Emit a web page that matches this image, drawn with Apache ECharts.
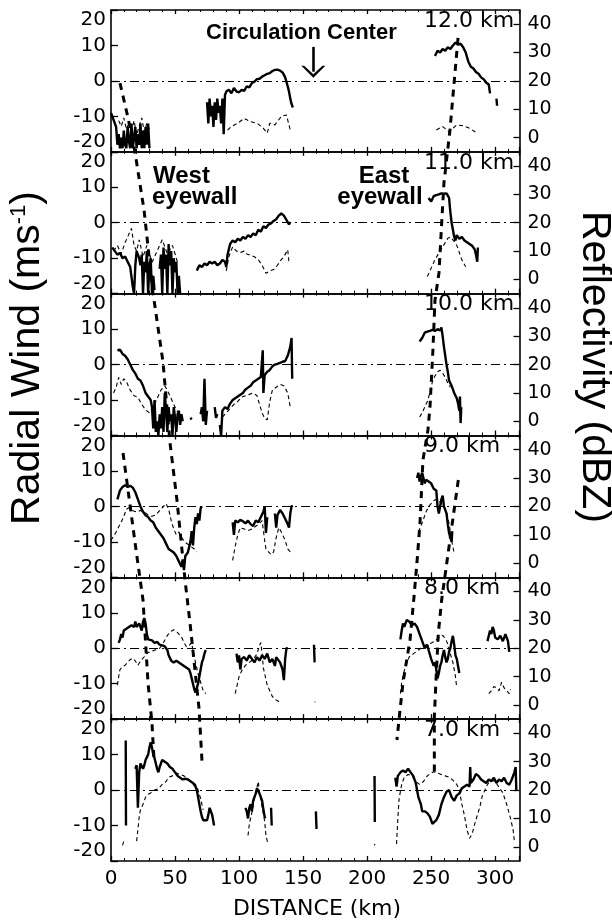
<!DOCTYPE html>
<html><head><meta charset="utf-8">
<script src="https://cdn.jsdelivr.net/npm/echarts@6/dist/echarts.min.js"></script>
<style>html,body{margin:0;padding:0;background:#fff}#c{width:612px;height:923px}</style>
</head><body><div id="c"></div>
<script>
// ---------------- DATA ----------------
const panelLabels = ['12.0 km','11.0 km','10.0 km','9.0 km','8.0 km','7.0 km'];
const xTicks = [0,50,100,150,200,250,300];
const windTicks = [-20,-10,0,10,20];
const reflTicks = [0,10,20,30,40];

// radial wind (m/s) [distance km, value]; null = gap
const wind12 = [[0,-9],[1,-9.5],[2,-11],[3,-12],[4,-13],[5,-18],[6,-15],[7,-19],[8,-16],[9,-19],[10,-14],[11,-18],[12,-19],[13,-13],[14,-17],[15,-19],[16,-12],[17,-19],[18,-16],[19,-13],[20,-19],[21,-15],[22,-18],[23,-12],[24,-19],[25,-14],[26,-19],[27,-13],[28,-18],[29,-12],[30,-19],null,
 [75,-6],[76,-12],[77,-5],[78,-10],[79,-7],[80,-13],[81,-6],[82,-11],[83,-5],[84,-9],[85,-7],[86,-12],[87,-5],[88,-15],[89,-4],[90,-3],[92,-2.5],[94,-3.5],[96,-2],[98,-3],[100,-3.2],[102,-2.5],[104,-2.8],[106,-1.5],[108,-1.8],[110,-0.6],[112,-0.2],[114,0.5],[116,0.6],[118,1.2],[120,1.6],[122,2],[124,2.2],[126,2.8],[128,3.1],[130,3.2],[132,2.9],[134,2.4],[136,1],[138,-1.5],[139,-3],[140,-5],[141,-6.5],[142,-7.5],null,
 [253,7],[255,8.5],[257,8],[259,9],[261,8.5],[263,9.5],[265,9],[267,10],[269,10.8],[271,10.2],[273,10.5],[275,9.5],[277,8],[279,5.5],[281,4],[283,3.5],[285,2.5],[287,2],[289,1],[291,0.5],[293,-0.5],[295,-1],[296,-3.5],null,[301,-5],[301.5,-7],null];
const wind11 = [[1,-7],[3,-8],[5,-9],[7,-8.5],[9,-10],[11,-9.5],[13,-11],[15,-12.5],[17,-18],[18,-20],[19,-12],[20,-8],[21,-7.5],[22,-10],[23,-12],[24,-9],[25,-20],[26,-11],[27,-14],[28,-8],[29,-20],[30,-12],[31,-10],[32,-20],[33,-15],[34,-19],null,
 [38,-13],[39,-9],[40,-20],[41,-7],[42,-13],[43,-9],[44,-20],[45,-6],[46,-12],[47,-8],[48,-20],[49,-10],[50,-14],[51,-11],[52,-20],[53,-15],[54,-20],null,
 [67,-13.5],[69,-12],[71,-12.5],[73,-11.5],[75,-12],[77,-11],[79,-11.5],[81,-11],[83,-12],[85,-11.5],[87,-10.5],[89,-11],[90,-12.5],[91,-9],[93,-6],[95,-5],[97,-5.5],[99,-4.5],[101,-5],[103,-4],[105,-4.5],[107,-3.5],[109,-4],[111,-3],[113,-3.5],[115,-2],[117,-2.5],[119,-1],[121,-1.5],[123,-0.5],[125,-0.2],[127,0.5],[129,1],[131,2],[133,2.6],[135,2],[137,0.8],[139,-0.5],[140,0.2],null,
 [248,7],[250,6],[252,7.5],[254,7.8],[256,8],[258,8.3],[260,8.2],[262,8.3],[264,7],[265,3],[266,0],[267,-2],[268,-4],[269,-5],[270,-3.5],[272,-4.5],[274,-4],[276,-5],[278,-5.5],[280,-6],[282,-6.5],[284,-7.5],[285,-9],[286,-11],[286.5,-7],null];
const wind10 = [[5,4],[7,4.2],[9,3],[11,2.5],[13,1.5],[15,0],[17,-1.5],[19,-2.5],[21,-4],[23,-4.5],[25,-6],[27,-8],[29,-9],[31,-10],[32,-12],[33,-18],[34,-10],[35,-19],[36,-16],[37,-20],[38,-14],[39,-18],[40,-12],[41,-19],[42,-8],[43,-13],[44,-19],[45,-12],[46,-16],[47,-14],[48,-20],[49,-12],[50,-15],[51,-19],[52,-14],[53,-13],[54,-17],[55,-14],[56,-16],null,
 [62,-15],[63,-15.5],null,[70,-14],[71,-12],[72,-16],[73,-4],[74,-17],[75,-13],null,[81,-12],[82,-15],[83,-14],null,
 [85,-17],[86,-20],[87,-13],[89,-12],[91,-12.5],[93,-11],[95,-10],[97,-9.5],[99,-9],[101,-8.5],[103,-8],[105,-7],[107,-6.5],[109,-6],[111,-5],[113,-4.5],[115,-4],[117,-3.5],[118,-3],[118.5,4],[119,-8],[120,-3],[122,-2],[124,-1.5],[126,-0.5],[128,0],[130,0.2],[132,0.5],[134,0.8],[136,1],[138,2.5],[140,5],[141,7.5],[141.5,-4],null,
 [241,6.5],[243,7.5],[245,9],[247,9.3],[249,9.5],[251,9.8],[253,9.5],[255,10],[257,9.6],[258,10.5],[259,8],[260,5],[261,2.5],[262,0],[263,-2],[264,-4.5],[266,-6],[268,-8],[270,-9.5],[271,-11],[272,-13],[272.5,-9],[273,-16.5],[273.5,-12],null];
const wind9 = [[5,2],[7,4.5],[9,5.5],[11,6],[13,5.5],[15,5.8],[17,5.3],[19,4],[21,2],[23,0],[25,-1.5],[27,-2.5],[29,-3],[31,-4],[33,-4.5],[35,-6],[37,-7],[39,-8],[41,-9],[43,-10.5],[45,-12],[47,-12.5],[49,-13],[51,-14],[53,-15.5],[55,-17],[56,-15],[57,-18],[58,-14],[60,-13],[62,-10],[63,-7],[64,-11],[65,-6],[66,-3],[67,-5],[68,-2],[69,-4],[70,-0.5],[71,0],null,
 [95,-4.5],[96,-8],[97,-4],[99,-4.5],[101,-3.8],[103,-4.2],[105,-4.8],[107,-4],[109,-5],[111,-5.5],[113,-4],[115,-4.5],[117,-3],[119,-1.5],[120,0],[121,-7.5],[122,-3],null,
 [128,-2],[129,-6],[130,-2.5],[132,-1],[134,-2],[136,-3.5],[138,-5],[139,-6],[140,-2],[141,0],[142,0.2],null,
 [239,8],[240,9.5],[241,7],[242,8.5],[243,9.5],[244,8],[245,6.5],[246,7.5],[248,7],[250,6.5],[252,5],[254,4.5],[255,0],[256,-2],[257,-2.5],[258,2],[259,3],[260,0],[261,-1],[262,-2],[263,-5],[264,-7.5],[265,-8],[266,-10],[266.5,-7],null];
const wind8 = [[6,1.5],[7,2.5],[8,4],[9,3],[10,5],[11,4.5],[12,5.5],[13,5],[14,6],[15,5.5],[16,6.5],[17,7],[18,6],[19,7.5],[20,6],[21,5.5],[22,7],[23,6.5],[24,5],[25,7.5],[26,8.5],[27,7],[28,4],[29,2.5],[30,2],[32,2.2],[34,1.5],[36,1.8],[38,1],[40,0.8],[42,0.5],[44,-0.5],[45,-2],[47,-3.5],[49,-4],[51,-3.5],[53,-4],[55,-4.5],[57,-5],[59,-5.5],[61,-6],[62,-7],[63,-8.5],[64,-10],[65,-11.5],[66,-12.5],[67,-12],[68,-10],[69,-8],[70,-6],[71,-4],[72,-3],[73,-1.5],[74,-0.5],null,
 [98,-1.5],[99,-4],[100,-2],[101,-6],[102,-3],[104,-2.5],[106,-3.5],[108,-2],[110,-3],[112,-4],[114,-2.5],[116,-3.5],[118,-2],[120,-3],[122,-1.5],[124,-4],[126,-3],[128,-5],[129,-2.5],[130,-2],[132,-4],[134,-6],[135,-9],[136,-3],[137,0],[138,0],null,[158.5,1],[159,-4],null,
 [226,2.5],[227,5],[228,7],[229,6],[231,8],[233,7.5],[235,6.5],[237,7],[239,6],[241,4],[243,2],[245,0],[247,1],[248,-0.5],[250,-3],[252,-5],[253,-4],[254,-6],[255,-8.5],[256,-7],[257,-5],[258,-4],[259,-2],[260,-0.5],[261,-2.5],[262,-4],[263,-3],[264,-1],[265,0],[266,2],[267,3.5],[268,1],[269,-2],[270,-3],[271,-5],[272,-7],null,
 [294,2],[295,3.5],[296,5],[297,4],[298,6],[299,5],[300,3],[302,2.5],[304,3.5],[306,2],[308,4],[309,4.5],[310,2],[311,-1],null];
const wind7 = [[11.5,14],[11.7,-10],null,
 [19,6],[20,7],[21,-5],[22,5],[23,7.5],[24,8],[25,6],[26,7],[27,8.5],[28,9],[29,10],[30,12],[31,13.5],[32,12],[33,10],[34,9],[35,7.5],[36,6],[37,5],[38,6.5],[40,8.5],[42,8],[44,7.5],[46,6.5],[48,6],[50,5],[52,4],[54,3.5],[56,3],[58,3.2],[60,3],[62,2.5],[64,2],[66,1],[67,0],[68,-2],[69,-4],[70,-6],[71,-7.5],[72,-8.5],[73,-8.8],[75,-8.5],[76,-7],[77,-5],[78,-5.5],[79,-7],[80,-9],[80.5,-10],null,
 [105,-5],[106,-6],[107,-8],[108,-5],[109,-4],[110,-6],[111,-3],[112,-2],[113,-1],[114,0.5],[115,0],[116,-1],[117,-2],[118,-3],[119,-5.5],[120,-7.5],[120.5,-8],null,[125,-5],[125.5,-10],null,[160,-6],[160.5,-11],null,[205.8,4],[206,-9],null,
 [222,3.5],[223,1],[224,4],[226,5],[228,5.5],[230,5],[232,6],[234,5],[236,4],[238,2],[239,0],[240,-2],[241,-3],[242,-4],[243,-6],[245,-6],[247,-6.5],[249,-7.5],[251,-9.5],[252,-10],[254,-8.5],[256,-7],[258,-4],[260,-2],[262,-0.5],[264,0],[266,-2],[268,-3],[270,-1.5],[272,-1],[274,0.5],[276,1],[278,1.5],[280,1],[280.5,6.5],[281,2],[283,3],[285,4.5],[287,4],[289,3],[291,2.5],[293,2],[295,3],[297,2.5],[299,3.5],[301,2],[303,3],[305,2.5],[307,3.5],[309,2],[311,1.5],[313,3],[315,5],[316,6.5],[316.5,0],null];

// reflectivity (dBZ) [distance km, value]; null = gap
const refl12 = [[6,6],[8,4],[10,7],[12,3],[14,5],[16,2],[18,6],[20,1],[22,4],[24,7],[26,2],[28,5],[30,3],null,
 [91,2.7],[94,3.9],[99,5.1],[104,6.8],[109,5.6],[114,5.1],[119,3.3],[122,1.6],[124,5.1],[128,4.5],[133,7.5],[137,8],[140,2.7],null,
 [254,2.7],[259,3.9],[264,2.1],[270,4.5],[275,4.2],[280,3.3],[286,1.6],null];
const refl11 = [[2,10],[5,12],[8,9],[11,13],[14,16],[16,18],[18,12],[20,10],[22,14],[25,8],[28,12],[32,6],[36,10],[40,14],[44,9],[48,12],[52,6],null,
 [90,3],[92,8],[95,11.5],[98,10],[101,9.5],[104,10],[106,9],[109,8.5],[112,8],[115,7],[118,5],[121,2.2],[124,3],[127,3.5],[130,5],[133,7],[135,8],[138,10.5],[139,6],null,
 [247,1],[249,3],[251,5],[253,7],[255,8.5],[257,10],[259,11.5],[261,13],[263,14.5],[265,15],[267,14],[269,13],[271,11],[273,8],[275,6],[277,4.5],null];
const refl10 = [[2,10],[4,12],[6,15.5],[8,13],[10,15],[12,14],[15,11],[18,9],[21,8.5],[24,6],[27,4],[30,3],[33,5],[36,8],[39,11],[42,12.5],[45,10],[48,7],[51,4],[54,2],null,
 [87,1.5],[90,3],[93,4.5],[96,6],[99,7],[102,8.5],[105,9],[108,9.5],[111,10],[114,9],[116,6],[118,3],[120,1],[122,0.5],[124,7],[126,11],[129,12],[132,13],[135,12.5],[138,10],[140,5],null,
 [241,1.5],[243,3],[245,5],[247,7],[249,10],[251,14],[253,16],[255,17.5],[257,18],[259,17],[261,15.5],[263,13.5],[265,12],null];
const refl9 = [[0,8],[2,9.5],[4,11],[6,12.8],[8,14.5],[10,16.5],[12,19],[14,19.5],[17,18.5],[20,18],[23,18.6],[26,18],[29,17],[32,16.5],[35,17],[38,18.5],[41,20],[43,21],[45,19],[47,15],[49,12],[51,10],[53,11],[55,9],[57,8],[59,7],[62,6],[65,5],[67,4],null,
 [95,1],[97,6],[99,10],[101,12.5],[104,12],[107,11.5],[110,12],[113,13],[116,14],[118,15],[120,8],[121,5],[123,4],[125,3],[127,4],[129,9],[131,12.5],[133,11],[136,8],[138,5],[140,4],null,
 [240,11],[242,13],[244,15.5],[246,18],[248,20],[250,21],[252,22],[254,22.5],[256,22],[258,21],[260,20],[262,18],[264,14],[266,8],[268,3.5],null];
const refl8 = [[5,7],[6,10],[7,12.5],[9,13.5],[11,14],[13,15],[15,16],[17,16.5],[19,15.5],[21,14],[23,15.5],[26,17],[29,18.5],[32,19],[35,19.5],[38,20],[41,22],[44,24.5],[47,26],[49,26.5],[51,26],[53,25],[55,24],[57,22],[59,20.5],[61,21],[63,22],[64,19],[66,15],[68,11],[70,8],[72,5],[74,4],null,
 [97,4],[98,6],[100,10],[102,12],[105,14],[108,15],[111,16],[114,18],[116,21],[117,22],[118,18],[119,13],[120,11],[122,7],[124,5],[126,3],[128,2],[130,1.5],[132,1],null,[159,1],[159.5,1.2],null,
 [226,4],[227,8],[229,12],[231,15],[233,17],[236,18],[239,19],[242,20],[245,21],[248,21.5],[251,22],[254,23],[257,24],[259,24.5],[261,23.5],[263,21.5],[265,18],[267,15],[269,10],[270,6],null,
 [295,4],[297,5],[299,6.5],[301,6],[303,5],[305,8],[307,6],[309,5],[311,4],[312,5.5],null];
const refl7 = [[9,0.5],[10,2],null,
 [20,2],[21,6],[22,10.5],[23,13],[25,15],[27,17.5],[29,18.5],[31,19],[34,20],[37,20.5],[40,22],[43,23],[45,24.5],[48,25],[51,26],[54,25.5],[57,25],[60,24],[63,23],[66,22],[68,20],[70,17],[72,13],null,
 [107,4],[108,8],[110,12],[112,17],[114,21],[115,23],[116,19],[118,14],[120,9],[121,4],[122,2],[123,1.5],null,[205.8,1],[206,0.5],null,
 [223,1],[224,10],[225,17],[227,22],[229,24.5],[232,25.5],[235,25],[238,23],[241,22],[244,23],[247,25],[250,26],[252,26.5],[255,26],[258,25.5],[261,25],[264,24.5],[267,23.5],[270,22],[272,20],[274,15],[276,11],[278,6],[280,3],[282,4.5],[284,8],[286,11],[288,14],[290,18],[292,20],[294,22],[297,23.5],[300,23],[303,21],[306,19],[309,15],[312,10],[314,6],[315,2],null];

// eyewall tilt lines: [distance km, panel level] (0 = bottom of 7 km panel, 6 = top of 12 km panel)
const westOuter = [[7.0,5.485],[13.3,5.239],[18.7,4.999],[25.8,4.590],[32.8,4.005],[40.6,3.518],[46.1,2.947],[51.5,2.545],[57.8,1.981],[61.7,1.678],[68.7,1.079],[71.1,0.698]];
const westInner = [[9.4,2.877],[20.3,2.143],[25.0,1.840],[28.9,1.255],[32.0,0.973],[33.6,0.712]];
const eastOuter = [[271.0,5.803],[264.7,5.154],[260.0,4.780],[258.5,4.541],[256.1,4.146],[253.0,3.955],[251.4,3.603],[249.1,3.201],[247.5,3.039],[243.6,2.827],[241.3,2.383],[238.9,2.101],[236.6,1.861],[233.5,1.558],[228.0,1.255],[225.7,1.065],[223.3,0.853]];
const eastInner = [[271.2,2.686],[264.7,2.263],[258.2,1.840],[255.6,1.605],[253.8,1.276],[252.5,1.017],[252.5,0.628]];

// circulation-center arrow: [distance km, wind from, wind to]
const circArrow = [158, 9.6, 2.6];

// ---------------- CHART ----------------
const winds = [wind12, wind11, wind10, wind9, wind8, wind7];
const refls = [refl12, refl11, refl10, refl9, refl8, refl7];
const GT = 10, PH = 141.83, GL = 111, GW = 408.5, XMAX = 319;
const FONT = 'DejaVu Sans';
const blk = '#000';
const fix = arr => arr.map(p => p === null ? ['-', '-'] : p);

const grid = [], xAxis = [], yAxis = [], series = [], graphic = [];
for (let i = 0; i < 6; i++) {
  grid.push({left: GL, top: GT + i * PH, width: GW, height: PH, show: false});
}
grid.push({left: GL, top: GT, width: GW, height: 6 * PH, show: false});

const axLine = {show: true, onZero: false, lineStyle: {color: blk, width: 1.6}};
for (let i = 0; i < 6; i++) {
  xAxis.push({gridIndex: i, type: 'value', min: 0, max: XMAX, interval: 50, position: 'bottom',
    axisLine: axLine, axisTick: {show: true, inside: true, length: 5, lineStyle: {color: blk, width: 1.3}},
    minorTick: {show: true, splitNumber: 5, length: 3, lineStyle: {color: blk, width: 1}},
    splitLine: {show: false},
    axisLabel: {show: i === 5, color: blk, fontFamily: FONT, fontSize: 20, margin: 8,
      customValues: xTicks}});
}
for (let i = 0; i < 6; i++) {
  xAxis.push({gridIndex: i, type: 'value', min: 0, max: XMAX, interval: 50, position: 'top',
    axisLine: axLine, axisTick: {show: true, inside: true, length: 4, lineStyle: {color: blk, width: 1.3}},
    minorTick: {show: true, splitNumber: 5, length: 2, lineStyle: {color: blk, width: 1}},
    splitLine: {show: false}, axisLabel: {show: false}});
}
xAxis.push({gridIndex: 6, type: 'value', min: 0, max: XMAX, show: false});

for (let i = 0; i < 6; i++) {
  yAxis.push({gridIndex: i, type: 'value', min: -20, max: 20, interval: 10, position: 'left',
    axisLine: axLine, axisTick: {show: true, inside: true, length: 7, lineStyle: {color: blk, width: 1.3}},
    splitLine: {show: false},
    axisLabel: {color: blk, fontFamily: FONT, fontSize: 20, margin: 5, showMinLabel: true, showMaxLabel: true,
      verticalAlignMaxLabel: 'top', verticalAlignMinLabel: 'bottom', customValues: windTicks}});
  yAxis.push({gridIndex: i, type: 'value', min: -5, max: 45, position: 'right',
    axisLine: axLine, axisTick: {show: true, inside: true, length: 6, customValues: reflTicks, lineStyle: {color: blk, width: 1.3}},
    splitLine: {show: false},
    axisLabel: {color: blk, fontFamily: FONT, fontSize: 19, margin: 8, customValues: reflTicks}});
}
yAxis.push({gridIndex: 6, type: 'value', min: 0, max: 6, show: false});

for (let i = 0; i < 6; i++) {
  series.push({type: 'line', xAxisIndex: i, yAxisIndex: 2 * i, data: fix(winds[i]),
    showSymbol: false, connectNulls: false, lineStyle: {color: blk, width: 2.4}, z: 3,
    markLine: {silent: true, symbol: 'none', label: {show: false},
      lineStyle: {color: blk, width: 1, type: [9, 4, 2, 4]}, data: [{yAxis: 0}]}});
  series.push({type: 'line', xAxisIndex: i, yAxisIndex: 2 * i + 1, data: fix(refls[i]),
    showSymbol: false, connectNulls: false, lineStyle: {color: blk, width: 1.1, type: [4, 3]}, z: 2});
}
[westOuter, westInner, eastOuter, eastInner].forEach(d => {
  series.push({type: 'line', xAxisIndex: 12, yAxisIndex: 12, data: d, showSymbol: false,
    lineStyle: {color: blk, width: 3, type: [7, 6]}, z: 4});
});
// arrow
series.push({type: 'line', xAxisIndex: 0, yAxisIndex: 0, data: [],
  markLine: {silent: true, label: {show: false},
    symbol: ['none', 'path://M0,12L12.5,0L25,12L22,12L12.5,3.5L3,12Z'], symbolSize: [24, 12],
    lineStyle: {color: blk, width: 2.6, type: 'solid'},
    data: [[{coord: [circArrow[0], circArrow[1]]}, {coord: [circArrow[0], circArrow[2]]}]]}});

// texts
for (let i = 0; i < 6; i++) {
  graphic.push({type: 'text', x: 424, y: GT + i * PH + 11, z: 10,
    style: {text: panelLabels[i], font: '22px "DejaVu Sans"', fill: blk, align: 'left', verticalAlign: 'middle'}});
}
graphic.push({type: 'text', x: 206, y: 33, z: 10,
  style: {text: 'Circulation Center', font: 'bold 22px "Liberation Sans"', fill: blk, align: 'left', verticalAlign: 'middle'}});
graphic.push({type: 'text', x: 153, y: 176, z: 10,
  style: {text: 'West', font: 'bold 24px "Liberation Sans"', fill: blk, align: 'left', verticalAlign: 'middle'}});
graphic.push({type: 'text', x: 152, y: 197, z: 10,
  style: {text: 'eyewall', font: 'bold 24px "Liberation Sans"', fill: blk, align: 'left', verticalAlign: 'middle'}});
graphic.push({type: 'text', x: 384, y: 176, z: 10,
  style: {text: 'East', font: 'bold 24px "Liberation Sans"', fill: blk, align: 'center', verticalAlign: 'middle'}});
graphic.push({type: 'text', x: 380, y: 197, z: 10,
  style: {text: 'eyewall', font: 'bold 24px "Liberation Sans"', fill: blk, align: 'center', verticalAlign: 'middle'}});
graphic.push({type: 'text', x: 28, y: 358, rotation: Math.PI / 2, z: 10,
  style: {text: 'Radial Wind (ms{s|-1})', font: '41px "Liberation Sans"', fill: blk, align: 'center', verticalAlign: 'middle',
    rich: {s: {fontSize: 22, fontFamily: 'Liberation Sans', verticalAlign: 'top', fill: blk}}}});
graphic.push({type: 'text', x: 594, y: 367, rotation: -Math.PI / 2, z: 10,
  style: {text: 'Reflectivity (dBZ)', font: '41px "Liberation Sans"', fill: blk, align: 'center', verticalAlign: 'middle'}});
graphic.push({type: 'text', x: 317, y: 909, z: 10,
  style: {text: 'DISTANCE (km)', font: '22px "DejaVu Sans"', fill: blk, align: 'center', verticalAlign: 'middle'}});

const chart = echarts.init(document.getElementById('c'), null, {renderer: 'canvas'});
chart.setOption({animation: false, backgroundColor: '#fff', grid, xAxis, yAxis, series, graphic});
</script></body></html>
